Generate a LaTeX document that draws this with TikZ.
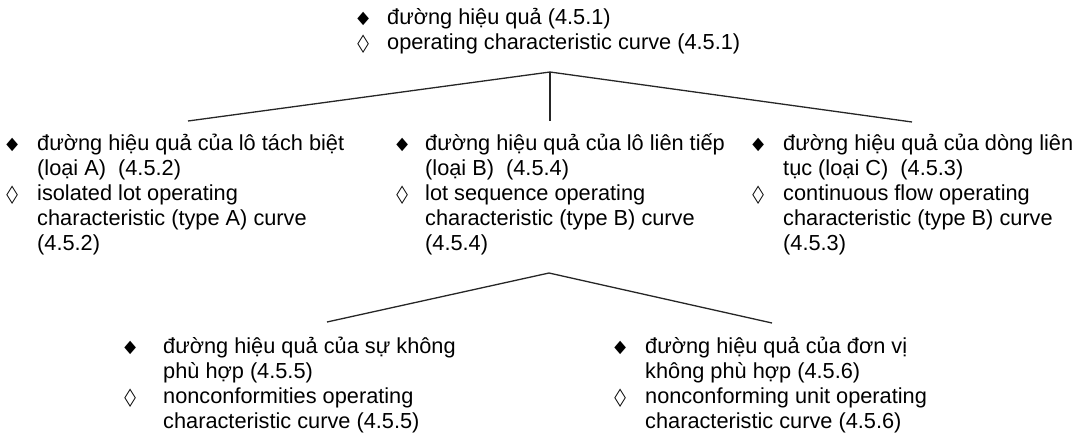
\documentclass[tikz,border=0pt]{standalone}
\usepackage{fontspec}
\setmainfont{Liberation Sans}
\newfontfamily\symfont{DejaVu Sans}
\usetikzlibrary{positioning}

% bullets: filled for the Vietnamese term, hollow for the English one
\newcommand{\bfill}{\makebox[0pt]{\raisebox{0.5pt}{\scalebox{0.95}[1.1]{\symfont\fontsize{16}{16}\selectfont ◆}}}}
\newcommand{\bhollow}{\makebox[0pt]{\raisebox{-1.5pt}{\scalebox{0.72}[1.15]{\symfont\bfseries\fontsize{21}{21}\selectfont ◇}}}}

\begin{document}
\begin{tikzpicture}[x=1pt, y=-1pt,
    ocbox/.style={anchor=base west, inner sep=0pt, text=black,
        font=\fontsize{21.75}{25}\selectfont},
    branch/.style={line width=1.3pt, black!85}]
    \useasboundingbox (0,0) rectangle (1090,445);
    % top term
    \node[ocbox] (oc) at (363,24) {\begin{tabular}[t]{@{}l@{\hspace{24pt}}l@{}}
        \bfill & đường hiệu quả (4.5.1)\\
        \bhollow & operating characteristic curve (4.5.1)
    \end{tabular}};
    % second level
    \node[ocbox] (ocA) at (12,150) {\begin{tabular}[t]{@{}l@{\hspace{25pt}}l@{}}
        \bfill & đường hiệu quả của lô tách biệt\\
        & (loại A)~ (4.5.2)\\
        \bhollow & isolated lot operating\\
        & characteristic (type A) curve\\
        & (4.5.2)
    \end{tabular}};
    \node[ocbox] (ocB) at (402,150) {\begin{tabular}[t]{@{}l@{\hspace{23pt}}l@{}}
        \bfill & đường hiệu quả của lô liên tiếp\\
        & (loại B)~ (4.5.4)\\
        \bhollow & lot sequence operating\\
        & characteristic (type B) curve\\
        & (4.5.4)
    \end{tabular}};
    \node[ocbox] (ocC) at (758,150) {\begin{tabular}[t]{@{}l@{\hspace{25pt}}l@{}}
        \bfill & đường hiệu quả của dòng liên\\
        & tục (loại C)~ (4.5.3)\\
        \bhollow & continuous flow operating\\
        & characteristic (type B) curve\\
        & (4.5.3)
    \end{tabular}};
    % third level
    \node[ocbox] (ocnc) at (130,353) {\begin{tabular}[t]{@{}l@{\hspace{33pt}}l@{}}
        \bfill & đường hiệu quả của sự không\\
        & phù hợp (4.5.5)\\
        \bhollow & nonconformities operating\\
        & characteristic curve (4.5.5)
    \end{tabular}};
    \node[ocbox] (ocnu) at (620,353) {\begin{tabular}[t]{@{}l@{\hspace{25pt}}l@{}}
        \bfill & đường hiệu quả của đơn vị\\
        & không phù hợp (4.5.6)\\
        \bhollow & nonconforming unit operating\\
        & characteristic curve (4.5.6)
    \end{tabular}};
    % branches
    \coordinate (fork) at (550,72);
    \coordinate (endA) at (188,121);
    \coordinate (endB) at (550,121);
    \coordinate (endC) at (912,122);
    \draw[branch] (endA) -- (fork) -- (endC);
    \draw[branch] (fork) -- (endB);
    \coordinate (forkB) at (549,273);
    \coordinate (endnc) at (327,322);
    \coordinate (endnu) at (772,323);
    \draw[branch] (endnc) -- (forkB) -- (endnu);
\end{tikzpicture}
\end{document}
